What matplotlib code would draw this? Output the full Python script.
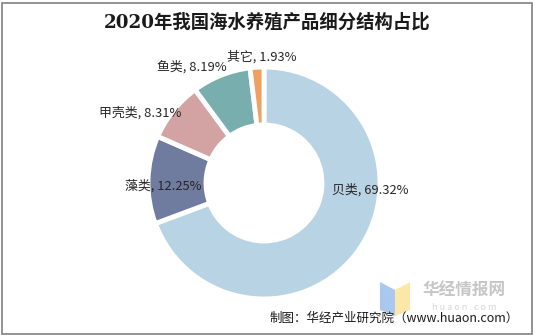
import matplotlib.pyplot as plt
from matplotlib.patches import Polygon, Rectangle

plt.rcParams['font.family'] = ['Noto Sans CJK SC', 'DejaVu Sans']

# 2020年海水养殖产品结构（%）
categories = ['贝类', '藻类', '甲壳类', '鱼类', '其它']
shares = [69.32, 12.25, 8.31, 8.19, 1.93]
colors = ['#b8d4e4', '#6f7b9f', '#d3a3a3', '#79aeaf', '#f0a060']
# label anchor points (pixel space, y measured from top)
label_pos = [(370, 190), (163, 186), (140, 113), (192, 67), (262, 57)]

W, H = 533, 335
fig = plt.figure(figsize=(W / 100, H / 100), dpi=100)
ax = fig.add_axes([0, 0, 1, 1])

cx, cy = 264, H - 183
ax.pie(shares, colors=colors, startangle=90, counterclock=False,
       center=(cx, cy), radius=116, frame=True,
       wedgeprops=dict(width=58, edgecolor='white', linewidth=3.5))
ax.set_xlim(0, W)
ax.set_ylim(0, H)
ax.axis('off')

for name, val, (x, y) in zip(categories, shares, label_pos):
    ax.text(x, H - y, f'{name}, {val:.2f}%', ha='center', va='center',
            fontsize=9.3, color='#262626')

ax.text(W / 2 + 1, H - 22, '2020年我国海水养殖产品细分结构占比', ha='center',
        va='center', fontsize=13.2, fontweight='bold', color='#1a1a1a',
        family=['DejaVu Serif', 'Noto Sans CJK SC'])

# watermark logo
ax.add_patch(Polygon([(380, H - 282), (395, H - 290), (395, H - 316), (380, H - 310)],
                     closed=True, color='#a9c8f0', lw=0))
ax.add_patch(Polygon([(395, H - 290), (410, H - 282), (410, H - 310), (395, H - 316)],
                     closed=True, color='#fbe7a8', lw=0))
ax.text(464, H - 291, '华经情报网', ha='center', va='center', fontsize=12,
        fontweight='bold', color='#c6c6c6')
ax.text(464, H - 308, 'h u a o n . c o m', ha='center', va='center', fontsize=6.5,
        color='#d6d6d6')

ax.text(519, H - 318, '制图：华经产业研究院（www.huaon.com）', ha='right',
        va='center', fontsize=9, color='#1a1a1a')

ax.add_patch(Rectangle((1.5, 1.5), W - 3, H - 4, fill=False, edgecolor='#808080',
                       lw=1.2))

fig.savefig('out.png', dpi=100)
